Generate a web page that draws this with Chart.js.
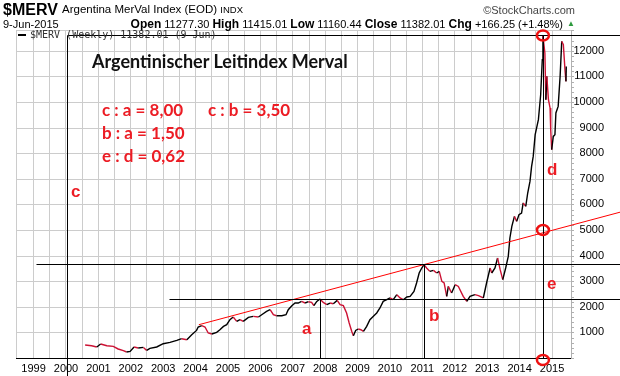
<!DOCTYPE html>
<html>
<head>
<meta charset="utf-8">
<script src="https://cdn.jsdelivr.net/npm/chart.js@4/dist/chart.umd.min.js"></script>
<style>
html, body { margin: 0; padding: 0; background: #fff; }
#wrap { position: relative; width: 620px; height: 376px; overflow: hidden; font-family: "Liberation Sans", Arial, sans-serif; }
#wrap canvas { position: absolute; left: 0; top: 0; }
.t { position: absolute; white-space: nowrap; line-height: 1; }
.hd { font-size: 11px; color: #000; }
.hd b { font-size: 12px; }
.red { color: #ec1c24; font-family: Lato, "Open Sans", sans-serif; font-weight: bold; font-size: 17px; }
.lt { color: #ec1c24; font-weight: bold; font-size: 17px; }
</style>
</head>
<body>
<div id="wrap">
  <canvas id="merv" width="620" height="376"></canvas>

  <div class="t" style="left:3px;top:2px;font-size:16px;font-weight:bold;">$MERV</div>
  <div class="t hd" style="left:62px;top:4px;font-size:11.5px;">Argentina MerVal Index (EOD) <span style="font-size:9.5px;">INDX</span></div>
  <div class="t" style="right:45px;top:5px;font-size:11px;color:#444;">©StockCharts.com</div>
  <div class="t hd" style="left:3px;top:19px;">9-Jun-2015</div>
  <div class="t hd" style="right:57px;top:18px;"><b>Open</b> 11277.30 <b>High</b> 11415.01 <b>Low</b> 11160.44 <b>Close</b> 11382.01 <b>Chg</b> +166.25 (+1.48%)</div>
  <div class="t" style="left:567px;top:20px;font-size:8px;color:#2e9a3e;">▲</div>

  <div class="t" style="left:18px;top:30px;font-family:'DejaVu Sans Mono',monospace;font-size:10px;color:#333;"><span style="display:inline-block;width:8px;height:2px;background:#000;vertical-align:middle;margin-right:4px;"></span>$MERV (Weekly) 11382.01 (9 Jun)</div>

  <div class="t" style="left:92px;top:52px;font-family:Lato,'Open Sans',sans-serif;font-weight:bold;font-size:18px;color:#111;">Argentinischer Leitindex Merval</div>
  <div class="t red" style="left:102px;top:101px;">c : a = 8,00</div>
  <div class="t red" style="left:208px;top:101px;">c : b = 3,50</div>
  <div class="t red" style="left:102px;top:124px;">b : a = 1,50</div>
  <div class="t red" style="left:102px;top:147px;">e : d = 0,62</div>

  <div class="t lt" style="left:71px;top:183px;">c</div>
  <div class="t lt" style="left:302px;top:320px;">a</div>
  <div class="t lt" style="left:429px;top:307px;">b</div>
  <div class="t lt" style="left:547px;top:161px;">d</div>
  <div class="t lt" style="left:547px;top:275px;">e</div>
</div>

<script>
// weekly closes (decimal years)
const weeks = [
  2000.59, 2000.79, 2000.95, 2001.07, 2001.26, 2001.46, 2001.61, 2001.77, 2001.87, 2001.98,
  2002.10, 2002.23, 2002.39, 2002.49, 2002.59, 2002.80, 2003.00, 2003.21, 2003.42, 2003.57,
  2003.73, 2003.88, 2004.03, 2004.08, 2004.19, 2004.29, 2004.39, 2004.50, 2004.65, 2004.75,
  2004.86, 2004.96, 2005.06, 2005.16, 2005.27, 2005.37, 2005.47, 2005.63, 2005.78, 2005.94,
  2006.04, 2006.19, 2006.30, 2006.40, 2006.50, 2006.66, 2006.79, 2006.86, 2006.97, 2007.07,
  2007.17, 2007.27, 2007.38, 2007.48, 2007.58, 2007.65, 2007.74, 2007.84, 2007.94, 2008.05,
  2008.15, 2008.25, 2008.37, 2008.46, 2008.56, 2008.66, 2008.74, 2008.82, 2008.87, 2008.94,
  2009.02, 2009.10, 2009.18, 2009.28, 2009.38, 2009.48, 2009.59, 2009.69, 2009.79, 2009.90,
  2010.00, 2010.10, 2010.21, 2010.31, 2010.41, 2010.52, 2010.62, 2010.74, 2010.82, 2010.90,
  2010.98, 2011.05, 2011.13, 2011.23, 2011.34, 2011.44, 2011.52, 2011.60, 2011.67, 2011.75,
  2011.80, 2011.90, 2012.01, 2012.11, 2012.26, 2012.37, 2012.47, 2012.62, 2012.73, 2012.88,
  2012.98, 2013.09, 2013.14, 2013.24, 2013.32, 2013.40, 2013.48, 2013.57, 2013.65, 2013.70,
  2013.76, 2013.84, 2013.91, 2013.98, 2014.06, 2014.11, 2014.19, 2014.25, 2014.32, 2014.37,
  2014.42, 2014.48, 2014.58, 2014.65, 2014.70, 2014.72, 2014.78, 2014.81, 2014.84, 2014.89,
  2014.94, 2014.96, 2014.99, 2015.04, 2015.09, 2015.12, 2015.19, 2015.25, 2015.30, 2015.35,
  2015.40, 2015.43, 2015.44
];
const closes = [
  508, 480, 430, 547, 480, 453, 352, 285, 234, 258,
  430, 390, 414, 297, 375, 430, 558, 609, 688, 754,
  715, 910, 1078, 1211, 1262, 1211, 977, 938, 1000, 1105,
  1234, 1300, 1496, 1601, 1430, 1496, 1430, 1586, 1625, 1601,
  1691, 1820, 1887, 1691, 1652, 1652, 1691, 1887, 2043, 2148,
  2148, 2211, 2148, 2199, 2172, 2043, 2211, 2305, 2172, 2082,
  2148, 2121, 2250, 2082, 2043, 1758, 1367, 1039, 871, 1078,
  1133, 1105, 1039, 1234, 1496, 1625, 1758, 1953, 2211, 2277,
  2344, 2277, 2473, 2344, 2277, 2383, 2406, 2602, 2930, 3320,
  3516, 3645, 3516, 3383, 3422, 3320, 3383, 2992, 2930, 2406,
  2797, 2539, 2863, 2797, 2406, 2211, 2406, 2473, 2434, 2344,
  2930, 3516, 3320, 3516, 3906, 3449, 3059, 3516, 3969, 4688,
  5141, 5531, 5336, 5598, 5664, 6055, 5922, 6445, 6898, 7484,
  7875, 8723, 9309, 10285, 11652, 12580, 11914, 10090, 11000, 10090,
  9766, 8918, 8137, 8656, 8723, 9570, 9828, 11000, 12367, 12238,
  11262, 10805, 11382
];

const yearLabels = [1999, 2000, 2001, 2002, 2003, 2004, 2005, 2006, 2007, 2008,
  2009, 2010, 2011, 2012, 2013, 2014, 2015];
const priceLabels = [1000, 2000, 3000, 4000, 5000, 6000, 7000, 8000, 9000, 10000, 11000, 12000];

// drawn-in analysis: levels and dates
const peakLevel = 12600;     // top, c : d
const bLevel = 3680;         // Jan 2011 high
const aLevel = 2310;         // Oct 2007 high
const cDate = 2000.03;
const aDate = 2007.84;
const bDate = 2011.05;
const dDate = 2014.72;
const bLineFrom = 1999.06;
const aLineFrom = 2003.18;
const trendFrom = [2004.10, 1300];
const trendTo = [2011.05, 3650];
const circleLevels = [12600, 5000, -80];

const Y_MAX = 12812;
const MINOR_STEP = 200;
const RED = '#cc1133';
const GRID = '#cccccc';
const AXIS_FONT = { family: '"Liberation Sans Narrow", "Liberation Sans", Arial', size: 11 };

// price axis on the right: grid, minor ticks and labels from the y scale
const priceAxis = {
  id: 'priceAxis',
  beforeDatasetsDraw(chart) {
    const { ctx, chartArea: a, scales: { y } } = chart;
    ctx.save();
    ctx.fillStyle = GRID;
    priceLabels.concat([Y_MAX]).forEach(v => {
      const py = Math.round(y.getPixelForValue(v));
      ctx.fillRect(a.left, py, a.right - a.left, 1);
    });

    ctx.fillStyle = '#b0b0b0';
    const ax = Math.round(a.right);
    ctx.fillRect(ax, a.top, 1, a.bottom - a.top);
    for (let v = 0; v <= Y_MAX; v += MINOR_STEP) {
      ctx.fillRect(ax, Math.round(y.getPixelForValue(v)), 3, 1);
    }

    ctx.fillStyle = '#000';
    ctx.font = `${AXIS_FONT.size}px ${AXIS_FONT.family}`;
    ctx.textAlign = 'right';
    ctx.textBaseline = 'middle';
    priceLabels.forEach(v => ctx.fillText(String(v), a.right + 33, y.getPixelForValue(v)));
    ctx.restore();
  }
};

const analysis = {
  id: 'analysis',
  afterDraw(chart) {
    const { ctx, scales: { x, y } } = chart;
    const px = v => Math.round(x.getPixelForValue(v)) + 0.5;
    const py = v => Math.round(y.getPixelForValue(v)) + 0.5;
    const right = chart.width;
    ctx.save();

    // trend line through the two highs
    const x0 = x.getPixelForValue(trendFrom[0]), y0 = y.getPixelForValue(trendFrom[1]);
    const x1 = x.getPixelForValue(trendTo[0]), y1 = y.getPixelForValue(trendTo[1]);
    ctx.strokeStyle = '#ff0000';
    ctx.lineWidth = 1;
    ctx.beginPath();
    ctx.moveTo(x0, y0);
    ctx.lineTo(right, y0 + (y1 - y0) * (right - x0) / (x1 - x0));
    ctx.stroke();

    ctx.strokeStyle = '#000';
    ctx.beginPath();
    // horizontals
    ctx.moveTo(px(cDate), py(peakLevel)); ctx.lineTo(right, py(peakLevel));
    ctx.moveTo(px(bLineFrom), py(bLevel)); ctx.lineTo(right, py(bLevel));
    ctx.moveTo(px(aLineFrom), py(aLevel)); ctx.lineTo(right, py(aLevel));
    // verticals
    ctx.moveTo(px(cDate), py(peakLevel)); ctx.lineTo(px(cDate), chart.height);
    ctx.moveTo(px(aDate), py(aLevel)); ctx.lineTo(px(aDate), py(0));
    ctx.moveTo(px(bDate), py(bLevel)); ctx.lineTo(px(bDate), py(0));
    ctx.moveTo(px(dDate), py(peakLevel)); ctx.lineTo(px(dDate), py(0));
    ctx.stroke();

    // circles on the d/e line
    ctx.strokeStyle = '#ee1111';
    ctx.lineWidth = 2.5;
    circleLevels.forEach(v => {
      ctx.beginPath();
      ctx.ellipse(x.getPixelForValue(dDate), y.getPixelForValue(v), 6, 5, 0, 0, Math.PI * 2);
      ctx.stroke();
    });
    ctx.restore();
  }
};

new Chart(document.getElementById('merv'), {
  type: 'line',
  data: {
    datasets: [{
      data: weeks.map((w, i) => ({ x: w, y: closes[i] })),
      borderWidth: 1.4,
      pointRadius: 0,
      tension: 0,
      borderColor: '#000',
      segment: {
        borderColor: c => c.p1.parsed.y < c.p0.parsed.y ? RED : '#000'
      }
    }]
  },
  options: {
    responsive: false,
    animation: false,
    events: [],
    layout: { padding: { left: 16, top: 30, right: 49, bottom: 0 } },
    plugins: { legend: { display: false }, tooltip: { enabled: false } },
    scales: {
      x: {
        type: 'linear',
        min: 1998.457,
        max: 2015.586,
        afterFit: s => { s.height = 18; },
        border: { color: '#000', width: 1 },
        grid: { color: GRID, drawTicks: false },
        ticks: {
          stepSize: 0.5,
          autoSkip: false,
          maxRotation: 0,
          padding: 4,
          color: '#000',
          font: AXIS_FONT,
          callback: v => yearLabels.includes(v) ? String(v) : ''
        }
      },
      y: {
        type: 'linear',
        display: false,
        min: 0,
        max: Y_MAX
      }
    }
  },
  plugins: [priceAxis, analysis]
});
</script>
</body>
</html>
